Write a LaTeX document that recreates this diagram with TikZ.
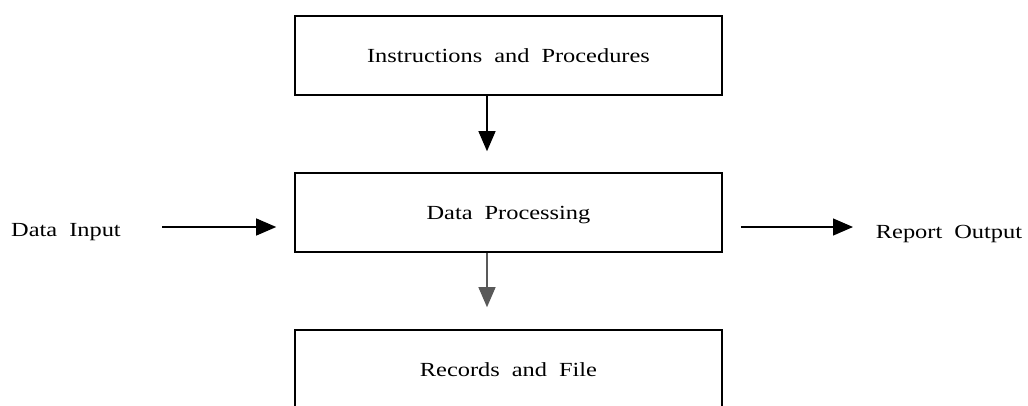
\documentclass[tikz,border=0pt]{standalone}
\usepackage{fontspec}
\setmainfont{Liberation Serif}[FakeStretch=1.22]
\usetikzlibrary{arrows.meta}
\newcommand\dlabelfont{\fontsize{20}{24}\selectfont\spaceskip=12pt\relax}
\begin{document}
\begin{tikzpicture}[x=1pt,y=-1pt,
  box/.style={draw, line width=1.6pt, minimum width=427pt, minimum height=79pt,
    inner sep=0pt, text depth=0pt, font=\dlabelfont},
  lbl/.style={font=\dlabelfont, inner sep=0pt, anchor=base},
  arr/.style={line width=1.2pt, -{Triangle[length=20pt,width=17pt]}}]
\useasboundingbox (0,0) rectangle (1028,405);
\clip (0,0) rectangle (1028,405);
\node[box] (top) at (508.5,55.5) {Instructions and Procedures};
\node[box] (mid) at (508.5,212.5) {Data Processing};
\node[box] (bot) at (508.5,369.5) {Records and File};
\node[lbl] (din) at (66,236) {Data Input};
\node[lbl] (rep) at (949,238) {Report Output};
\coordinate (dinstart) at (162,227);
\coordinate (repend) at (853,227);
\draw[arr, shorten >=21pt] ([xshift=-21.5pt]top.south) -- ([xshift=-21.5pt]mid.north);
\draw[arr, black!65, shorten >=22pt] ([xshift=-21.5pt]mid.south) -- ([xshift=-21.5pt]bot.north);
\draw[arr, shorten >=18pt] (dinstart) -- ([yshift=-14.5pt]mid.west);
\draw[arr, shorten <=18pt] ([yshift=-14.5pt]mid.east) -- (repend);
\end{tikzpicture}
\end{document}
